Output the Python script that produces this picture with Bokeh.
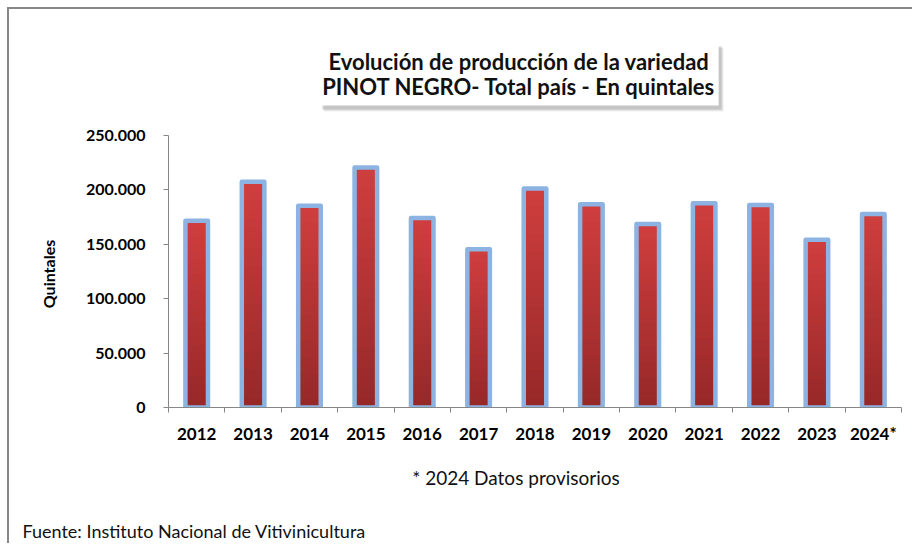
from bokeh.plotting import figure
from bokeh.models import Range1d, FixedTicker, CustomJSTickFormatter, Label, Title, ColumnDataSource
from bokeh.embed import file_html
from bokeh.resources import INLINE

# ---------------- data ----------------
years = ["2012", "2013", "2014", "2015", "2016", "2017", "2018",
         "2019", "2020", "2021", "2022", "2023", "2024*"]
values = [171500, 207500, 185300, 220600, 174000, 145500, 201300,
          186800, 168700, 187600, 186000, 154100, 177700]
y_ticks = [0, 50000, 100000, 150000, 200000, 250000]
y_max = 250000
title_lines = ["Evolución de producción de la variedad",
               "PINOT NEGRO- Total país - En quintales"]
y_label = "Quintales"
note_text = "* 2024 Datos provisorios"
source_text = "Fuente: Instituto Nacional de Vitivinicultura"

# ---------------- layout ----------------
FONT = "Lato"
AXIS_GRAY = "#868686"
n = len(years)

OX, OY = 9, 9            # page position of canvas origin (margin + border)
W, H = 905, 536
FL, FR, FB = 168.0, 901.0, 407.3     # frame edges (page px)
PX_PER_UNIT_Y = 272.3 / y_max        # 250.000 -> 272.3 px
FT = OY                               # frame extends to the top of the canvas
y_top = (FB - FT) / PX_PER_UNIT_Y

p = figure(width=W, height=H, x_range=Range1d(0, n), y_range=Range1d(0, y_top),
           output_backend="svg", toolbar_location=None,
           min_border_left=int(FL - OX), min_border_right=int(OX + W - FR),
           min_border_top=0, min_border_bottom=int(round(OY + H - FB)))
p.outline_line_color = None
p.grid.visible = False
p.background_fill_color = "white"
p.border_fill_color = "white"
p.styles = {"margin-left": "7px", "margin-top": "7px",
            "border-top": "2px solid #878787", "border-left": "2px solid #878787"}

def dx(px):
    return (px - FL) / ((FR - FL) / n)
def dy(py):
    return (FB - py) / PX_PER_UNIT_Y

# ---------------- bars (vertical gradient via overlapping bands) ----------------
xs = [i + 0.5 for i in range(n)]
BAR_W = 0.40
N_BANDS = 24
top_rgb = (208, 62, 62)
bot_rgb = (150, 40, 40)
for b in range(N_BANDS, 0, -1):
    f1 = b / N_BANDS
    t = (b - 0.5) / N_BANDS
    col = tuple(int(round(bot_rgb[k] + (top_rgb[k] - bot_rgb[k]) * t)) for k in range(3))
    src = ColumnDataSource(dict(x=xs, top=[v * f1 for v in values]))
    p.vbar(x="x", bottom=0, top="top", width=BAR_W, source=src,
           fill_color="#%02x%02x%02x" % col, line_color=None)

p.vbar(x=xs, top=values, bottom=0, width=BAR_W, fill_color=None,
       line_color="#8db3e2", line_width=4.5, line_join="round")

# ---------------- axes ----------------
xa = p.xaxis[0]
xa.ticker = FixedTicker(ticks=xs, minor_ticks=list(range(n + 1)))
xa.formatter = CustomJSTickFormatter(args=dict(labels=years),
                                     code="return labels[Math.floor(tick)];")
xa.major_tick_out = 0
xa.major_tick_in = 0
xa.minor_tick_out = 5
xa.minor_tick_in = 0
xa.minor_tick_line_color = AXIS_GRAY
xa.axis_line_color = AXIS_GRAY
xa.major_label_text_font = FONT
xa.major_label_text_font_style = "bold"
xa.major_label_text_font_size = "17px"
xa.major_label_text_color = "black"
xa.major_label_standoff = 10

ya = p.yaxis[0]
ya.ticker = FixedTicker(ticks=y_ticks)
ya.bounds = (0, y_max)
ya.formatter = CustomJSTickFormatter(code="""
    return Math.round(tick).toString().replace(/\\B(?=(\\d{3})+(?!\\d))/g, '.');
""")
ya.major_tick_out = 5
ya.major_tick_in = 0
ya.minor_tick_out = 0
ya.minor_tick_in = 0
ya.major_tick_line_color = AXIS_GRAY
ya.axis_line_color = AXIS_GRAY
ya.major_label_text_font = FONT
ya.major_label_text_font_style = "bold"
ya.major_label_text_font_size = "16px"
ya.major_label_text_color = "black"
ya.major_label_standoff = 18

# y-axis title as a side-panel title, placed along the axis extent
p.add_layout(Title(text=y_label, align="left", offset=FB - 308.0,
                   text_font=FONT, text_font_style="bold",
                   text_font_size="16px", text_color="black",
                   standoff=52), "left")

# ---------------- title box with shadow (inside frame) ----------------
title_text = "\n".join(title_lines)
tx, ty = dx(518.4), dy(73.5)
TITLE_PAD = (3, 6)
for off, a in [((5, -6), 0.10), ((4, -5), 0.15), ((3, -4), 0.22)]:
    p.add_layout(Label(x=tx, y=ty, text=title_text, text_align="center",
                       text_baseline="middle", text_font=FONT,
                       text_font_style="bold", text_font_size="22px",
                       text_color="#707070", text_alpha=0.001,
                       background_fill_color="#707070",
                       background_fill_alpha=a, padding=TITLE_PAD,
                       text_line_height=0.9,
                       x_offset=off[0], y_offset=off[1]))
p.add_layout(Label(x=tx, y=ty, text=title_text, text_align="center",
                   text_baseline="middle", text_font=FONT,
                   text_font_style="bold", text_font_size="22px",
                   text_color="#111111", background_fill_color="white",
                   background_fill_alpha=1.0, padding=TITLE_PAD,
                   text_line_height=0.9))

# ---------------- note & source (below panels) ----------------
p.add_layout(Title(text=note_text, align="left", offset=411.7 - FL,
                   text_font=FONT, text_font_style="normal",
                   text_font_size="19px", text_color="#111111",
                   standoff=35, padding=(0, 0, 0, 11)), "below")
p.add_layout(Title(text=source_text, align="left", offset=22 - FL,
                   text_font=FONT, text_font_style="normal",
                   text_font_size="18px", text_color="#111111",
                   standoff=0), "below")

open("out.html", "w").write(file_html(p, INLINE))
